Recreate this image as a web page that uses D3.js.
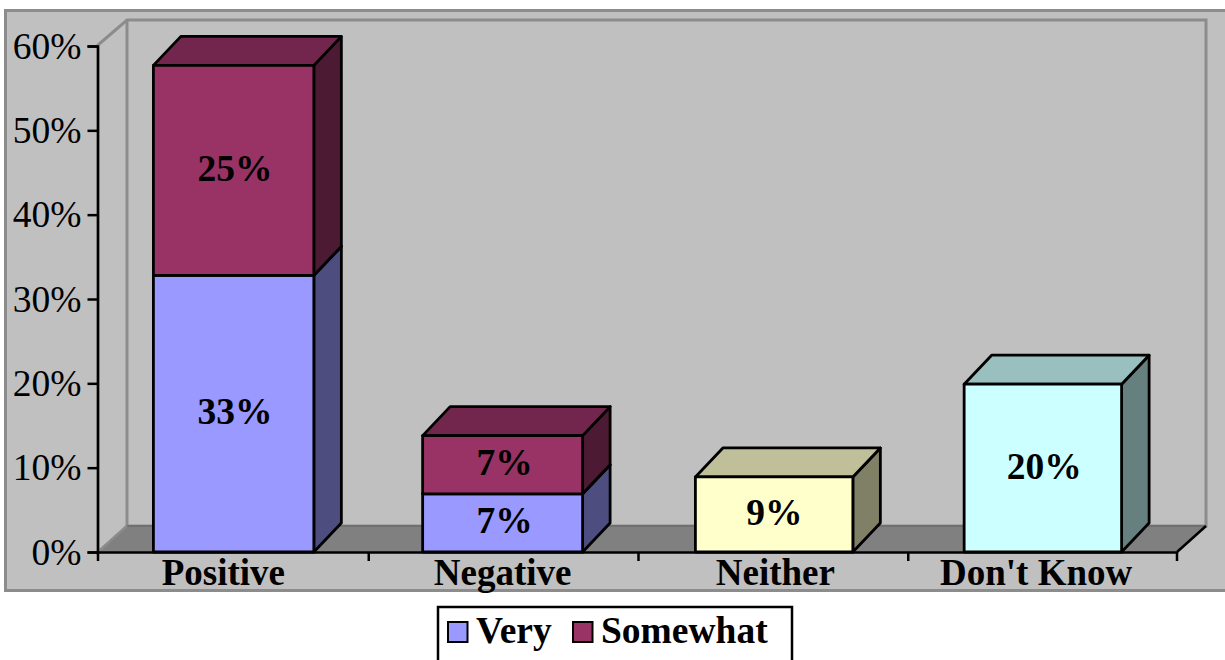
<!DOCTYPE html>
<html><head><meta charset="utf-8">
<script src="https://cdn.jsdelivr.net/npm/d3@7"></script>
<style>html,body{margin:0;padding:0;background:#fff;overflow:hidden}svg{display:block}text{font-family:"Liberation Serif",serif;fill:#000}</style>
</head><body><svg id="c" width="1225" height="660"></svg>
<script>
const categories = ["Positive","Negative","Neither","Don't Know"];
const seriesNames = ["Very","Somewhat","Neither","Don't Know"];
const very = [32.8,6.9,0,0];
const somewhat = [24.9,6.9,0,0];
const neither = [0,0,8.9,0];
const dontKnow = [0,0,0,19.9];
const seriesColors = ["#9999FF","#993366","#FFFFCC","#CCFFFF"];
const yTicks = [0,10,20,30,40,50,60];
const legendNames = ["Very","Somewhat"];

const svg = d3.select("#c");
const x0=98,x1=1177,y0=552,y1=46,wdx=29,wdy=-26,bdx=27.5,bdy=-29;
const x = d3.scaleBand().domain(categories).range([x0,x1]).paddingInner(0.407).paddingOuter(0.2035);
const y = d3.scaleLinear().domain([0,60]).range([y0,y1]);
const barInsetL=[0.5,0,3,2], barInsetR=[-1,0,-0.5,0.5];
const labelNudge=[-9.5,0,3,-6];
const grey="#808080", edge="#8c8c8c";
const pts = a => a.map(p=>p.join(",")).join(" ");

svg.append("rect").attr("x",5.5).attr("y",10.5).attr("width",1225).attr("height",580)
  .attr("fill","#C0C0C0").attr("stroke",edge).attr("stroke-width",3);
svg.append("polygon").attr("points",pts([[x0,y1-1],[x0+wdx,y1+wdy],[x1+wdx,y1+wdy],[x1+wdx,y0+wdy],[x0+wdx,y0+wdy],[x0,y0]]))
  .attr("fill","#C0C0C0").attr("stroke",edge).attr("stroke-width",3);
svg.append("line").attr("x1",x0+wdx).attr("x2",x0+wdx).attr("y1",y1+wdy).attr("y2",y0+wdy).attr("stroke",edge).attr("stroke-width",3);
svg.append("polygon").attr("points",pts([[x0,y0],[x0+wdx,y0+wdy],[x1+wdx,y0+wdy],[x1,y0]])).attr("fill",grey);
svg.append("line").attr("x1",x0+wdx).attr("x2",x1+wdx).attr("y1",y0+wdy).attr("y2",y0+wdy).attr("stroke","#707070").attr("stroke-width",2);
svg.append("line").attr("x1",x0).attr("y1",y0).attr("x2",x0+wdx).attr("y2",y0+wdy).attr("stroke",edge).attr("stroke-width",2);
svg.append("line").attr("x1",x1).attr("y1",y0).attr("x2",x1+wdx).attr("y2",y0+wdy).attr("stroke","#000").attr("stroke-width",2.5);

const shade=(c,k)=>{const r=d3.rgb(c);return d3.rgb(r.r*k,r.g*k,r.b*k).formatHex();};
const seriesValues=[very,somewhat,neither,dontKnow];
const segs=[];
categories.forEach((cat,i)=>{let base=0;seriesValues.forEach((vals,s)=>{const v=vals[i];if(v>0){segs.push({cat,i,s,v,base});base+=v;}});});
const left=d=>x(d.cat)+barInsetL[d.i], right=d=>x(d.cat)+x.bandwidth()-barInsetR[d.i];
const g=svg.append("g").attr("stroke","#000").attr("stroke-width",2.8).attr("stroke-linejoin","round");
const seg=g.selectAll("g").data(segs).join("g");
seg.append("polygon").attr("points",d=>{const r=right(d),a=y(d.base),b=y(d.base+d.v);return pts([[r,a],[r,b],[r+bdx,b+bdy],[r+bdx,a+bdy]]);})
  .attr("fill",d=>shade(seriesColors[d.s],0.5));
seg.append("polygon").attr("points",d=>{const l=left(d),r=right(d),b=y(d.base+d.v);return pts([[l,b],[r,b],[r+bdx,b+bdy],[l+bdx,b+bdy]]);})
  .attr("fill",d=>shade(seriesColors[d.s],0.75));
seg.append("rect").attr("x",left).attr("width",d=>right(d)-left(d)).attr("y",d=>y(d.base+d.v)).attr("height",d=>y(d.base)-y(d.base+d.v))
  .attr("fill",d=>seriesColors[d.s]);
svg.append("g").selectAll("text").data(segs).join("text")
  .attr("x",d=>x(d.cat)+x.bandwidth()/2+2).attr("y",d=>(y(d.base)+y(d.base+d.v))/2+10.5)
  .attr("text-anchor","middle").attr("font-size",37.5).attr("font-weight","bold").text(d=>Math.round(d.v)+"%");

const yAxis=d3.axisLeft(y).tickValues(yTicks).tickSize(10).tickPadding(6).tickFormat(d=>d+"%");
const ga=svg.append("g").attr("transform",`translate(${x0-0.5},0)`).call(yAxis);
ga.selectAll("text").attr("font-size",37.5).attr("font-family","Liberation Serif").attr("dy",12);
const xAxis=d3.axisBottom(x).tickSize(0).tickPadding(0);
const gb=svg.append("g").attr("transform",`translate(0,${y0})`).call(xAxis);
gb.selectAll("text").attr("font-size",37).attr("font-weight","bold").attr("font-family","Liberation Serif").attr("y",33).attr("dy",0)
  .attr("dx",(d,i)=>labelNudge[i]);
gb.selectAll(".tick line").remove();
const step=x.step();
gb.selectAll("line.b").data(d3.range(categories.length+1)).join("line").attr("class","b")
  .attr("x1",i=>x0+i*step+(i>0&&i<4?1:0)).attr("x2",i=>x0+i*step+(i>0&&i<4?1:0)).attr("y1",0).attr("y2",9);
svg.selectAll(".domain,.tick line,line.b").attr("stroke","#000").attr("stroke-width",2.5);

svg.append("rect").attr("x",438).attr("y",607).attr("width",354).attr("height",70).attr("fill","#fff").attr("stroke","#000").attr("stroke-width",2.5);
const lg=svg.append("g").selectAll("g").data(legendNames).join("g")
  .attr("transform",(d,i)=>`translate(${[448,573][i]},622)`);
lg.append("rect").attr("width",19.5).attr("height",20).attr("fill",(d,i)=>seriesColors[i]).attr("stroke","#000").attr("stroke-width",2);
lg.append("text").attr("x",28).attr("y",21).attr("font-size",37.5).attr("font-weight","bold").text(d=>d);
</script></body></html>
